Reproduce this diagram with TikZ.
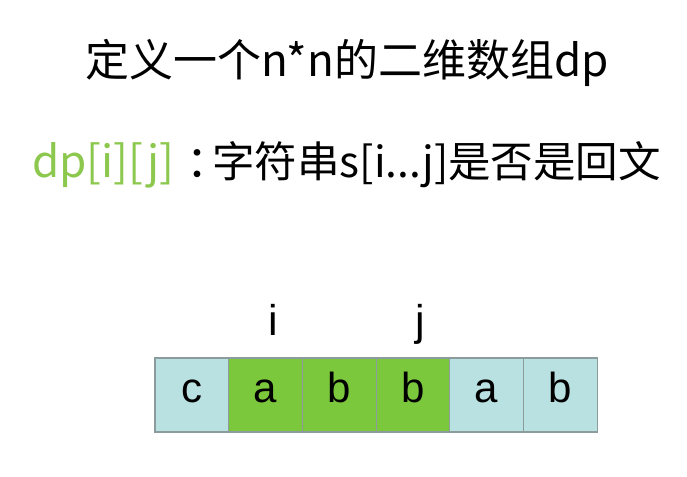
\documentclass[tikz,border=0pt]{standalone}
\usepackage{fontspec}
\setmainfont{Liberation Sans}
\newfontfamily\cjk{Noto Sans CJK SC}
\definecolor{dpgreen}{HTML}{8CC84E}
\definecolor{boxgreen}{HTML}{7CC83C}
\definecolor{boxblue}{HTML}{BAE1E1}
\definecolor{boxline}{HTML}{8C9C9C}
\begin{document}
\begin{tikzpicture}[x=1pt,y=-1pt,
  cell/.style={draw=boxline,line width=1.2pt,minimum width=73.7pt,minimum height=74pt,inner sep=0pt,outer sep=0pt},
  plain/.style={fill=boxblue},
  hot/.style={fill=boxgreen},
  letter/.style={inner sep=0pt,anchor=base,font=\fontsize{42}{48}\selectfont},
  heading/.style={inner sep=0pt,anchor=base,font=\cjk\fontsize{44}{50}\selectfont}]
\useasboundingbox (0,0) rectangle (687,476);
\fill[white] (0,0) rectangle (687,476);
\node[heading] (title) at (347,77) {定义一个n*n的二维数组dp};
\node[heading,anchor=base west] (def) at (32,177) {\textcolor{dpgreen}{dp[i][j]}\hspace{12pt}：\hspace{-18pt}{\fontsize{42.5}{50}\selectfont 字符串s[i...j]是否是回文}};
\foreach \k/\c/\s in {0/c/plain,1/a/hot,2/b/hot,3/b/hot,4/a/plain,5/b/plain}{
  \node[cell,\s] (b\k) at ({155+73.7*\k+36.85},395) {};
  \node[letter] (t\k) at ({155+73.7*\k+36.85},402) {\c};
}
\node[letter,font=\fontsize{43}{48}\selectfont] (li) at (273,335) {i};
\node[letter,font=\fontsize{43}{48}\selectfont] (lj) at (420,335) {j};
\end{tikzpicture}
\end{document}
